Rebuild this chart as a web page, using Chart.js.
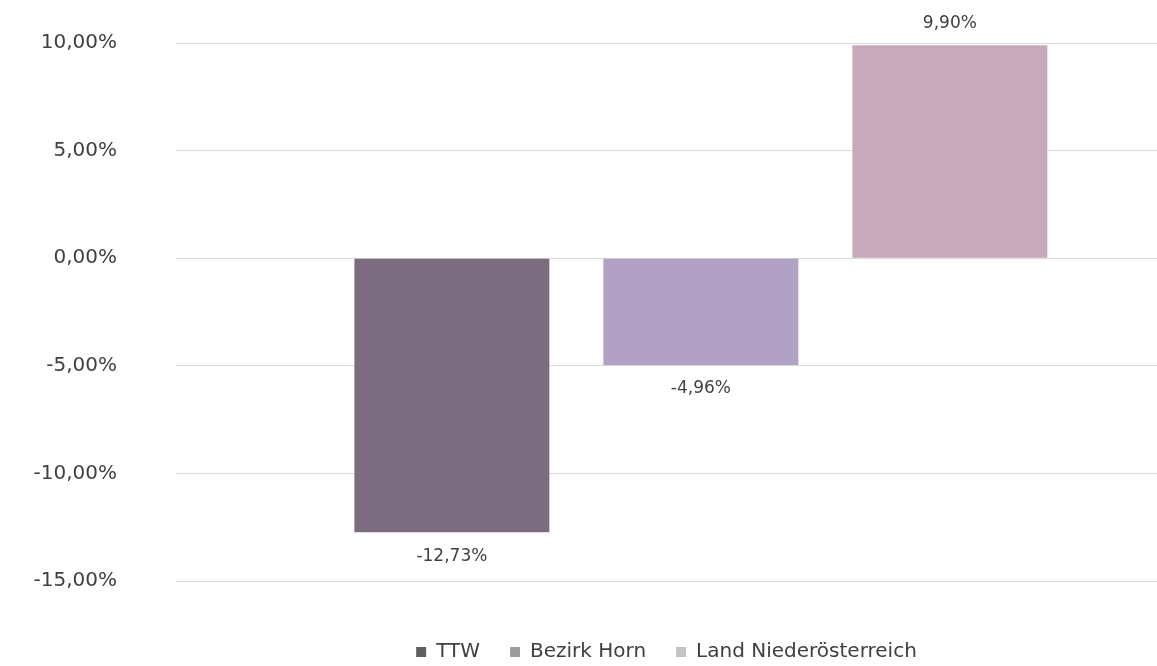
<!DOCTYPE html>
<html lang="de">
<head>
<meta charset="utf-8">
<title>Veränderung</title>
<script src="https://cdn.jsdelivr.net/npm/chart.js@4.4.1/dist/chart.umd.min.js"></script>
<style>
  html, body { margin: 0; padding: 0; background: #ffffff; }
  #wrap { width: 1157px; height: 666px; position: relative; }
</style>
</head>
<body>
<div id="wrap"><canvas id="myChartVeraenderung"></canvas></div>
<script>
//? Données du graphique.

const categories = ["TTW", "Bezirk Horn", "Land Niederösterreich"];
const valeurs = [-12.73, -4.96, 9.9];
const ticksAxeY = [-15, -10, -5, 0, 5, 10];

const couleursBarres = ["#7b6c80", "#b1a1c4", "#c8a9bc"];
const couleursLegende = ["#5f5f5f", "#9d9d9d", "#c4c4c4"];

//? -------------------------------------------------

//? Format "10,00%".

const formatPourcent = (v, decimales) =>
  v.toFixed(decimales).replace(".", ",") + "%";

//? -------------------------------------------------

//? Étiquettes au-dessus / en dessous des barres.

const pluginEtiquettes = {
  id: "etiquettes",
  afterDatasetsDraw(chart) {
    const ctx = chart.ctx;
    ctx.save();
    ctx.font = "17px 'DejaVu Sans'";
    ctx.fillStyle = "#404040";
    ctx.textAlign = "center";
    ctx.textBaseline = "middle";
    chart.data.datasets.forEach((ds, i) => {
      const bar = chart.getDatasetMeta(i).data[0];
      if (!bar) return;
      const v = ds.data[0].y;
      const y = v >= 0 ? bar.y - 22 : bar.y + 24;
      ctx.fillText(formatPourcent(v, 2), bar.x, y);
    });
    ctx.restore();
  },
};

//? -------------------------------------------------

//? Construction du graphique.

const constructionDuGraphique = () => {
  try {
    const ctx = document.getElementById("myChartVeraenderung").getContext("2d");

    const datasets = categories.map((nom, i) => ({
      label: nom,
      data: [{ x: i, y: valeurs[i] }],
      backgroundColor: couleursBarres[i],
      borderColor: couleursBarres[i],
      borderWidth: 0,
      grouped: false,
      categoryPercentage: 1,
      barPercentage: 0.783,
    }));

    new Chart(ctx, {
      type: "bar",
      data: { datasets },
      plugins: [pluginEtiquettes],
      options: {
        responsive: true,
        maintainAspectRatio: false,
        animation: false,
        layout: { padding: { top: 43, right: 0, left: 0, bottom: 0 } },
        plugins: {
          tooltip: { enabled: false },
          legend: {
            position: "bottom",
            fullSize: false,
            maxHeight: 54,
            labels: {
              boxWidth: 10,
              boxHeight: 10,
              padding: 30,
              color: "#404040",
              font: { family: "'DejaVu Sans'", size: 20 },
              generateLabels: (chart) =>
                chart.data.datasets.map((ds, i) => ({
                  text: ds.label,
                  fillStyle: couleursLegende[i],
                  strokeStyle: couleursLegende[i],
                  lineWidth: 0,
                  fontColor: "#404040",
                  datasetIndex: i,
                })),
            },
          },
        },
        scales: {
          x: {
            type: "linear",
            display: false,
            offset: false,
            min: -1.108,
            max: 2.832,
            ticks: { stepSize: 1, includeBounds: false },
            grid: { display: false },
          },
          y: {
            min: -16.44,
            max: 10,
            afterBuildTicks: (scale) => {
              scale.ticks = ticksAxeY.map((v) => ({ value: v }));
            },
            afterFit: (scale) => {
              scale.width = 176;
            },
            border: { display: false },
            grid: {
              color: "#d9d9d9",
              lineWidth: 1,
              drawTicks: true,
              tickLength: 59,
              tickColor: "rgba(0,0,0,0)",
            },
            ticks: {
              padding: 0,
              color: "#404040",
              font: { family: "'DejaVu Sans'", size: 20 },
              callback: (v) => formatPourcent(v, 2),
            },
          },
        },
      },
    });
  } catch (error) {
    console.log("🔴 ERREUR | Construction graphique :", error);
  }
};

constructionDuGraphique();
</script>
</body>
</html>
